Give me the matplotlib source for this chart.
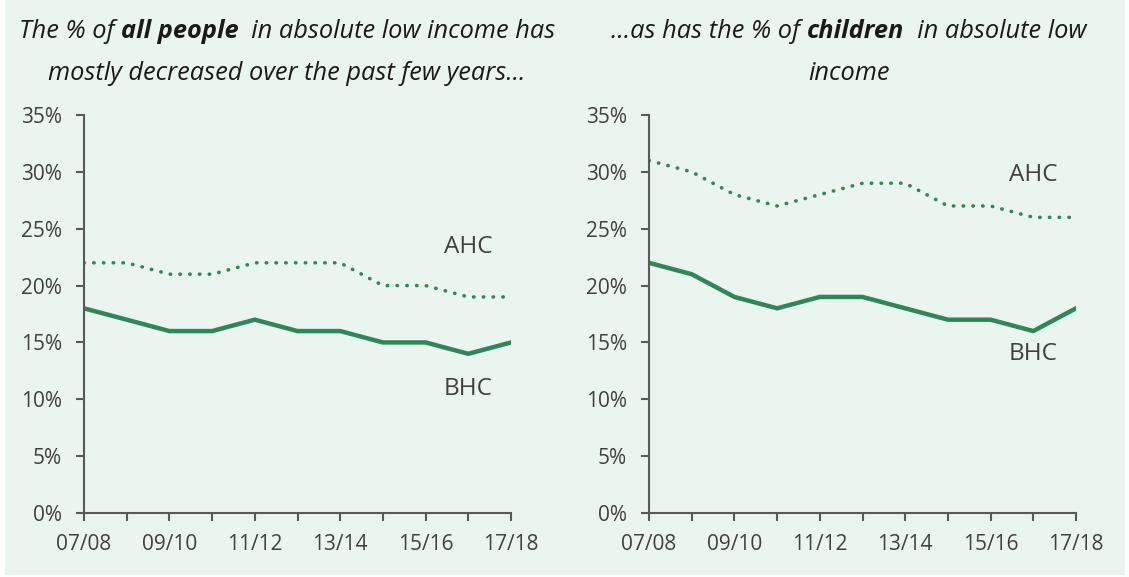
import matplotlib
matplotlib.use("Agg")
import matplotlib.pyplot as plt
from matplotlib.patches import Rectangle
from matplotlib.ticker import FuncFormatter

plt.rcParams['font.family'] = ['Open Sans', 'DejaVu Sans']

years = ["07/08", "08/09", "09/10", "10/11", "11/12", "12/13",
         "13/14", "14/15", "15/16", "16/17", "17/18"]
all_bhc = [18, 17, 16, 16, 17, 16, 16, 15, 15, 14, 15]
all_ahc = [22, 22, 21, 21, 22, 22, 22, 20, 20, 19, 19]
child_bhc = [22, 21, 19, 18, 19, 19, 18, 17, 17, 16, 18]
child_ahc = [31, 30, 28, 27, 28, 29, 29, 27, 27, 26, 26]

W, H = 1129, 577
GREEN = "#2e8659"
BG = "#ebf5ef"
GREY = "#404040"
AXC = "#595959"

fig = plt.figure(figsize=(W / 100, H / 100), dpi=100)
fig.patches.append(Rectangle((5 / W, 2 / H), 1120 / W, 1, transform=fig.transFigure,
                             facecolor=BG, edgecolor="none", zorder=-10))


def panel(left_px, bhc, ahc, ahc_lab, bhc_lab):
    ax = fig.add_axes([left_px / W, 1 - 513 / H, 427 / W, 398 / H])
    ax.set_facecolor("none")
    x = list(range(len(years)))
    ax.plot(x, bhc, color=GREEN, lw=3.2, solid_joinstyle="miter")
    ax.plot(x, ahc, color=GREEN, lw=2.6, linestyle=(0, (0.1, 2.6)), dash_capstyle="round")
    ax.set_xlim(0, len(years) - 1)
    ax.set_ylim(0, 35)
    ax.set_yticks(range(0, 36, 5))
    ax.yaxis.set_major_formatter(FuncFormatter(lambda v, p: f"{v:.0f}%"))
    ax.set_xticks(x)
    ax.set_xticklabels([y if i % 2 == 0 else "" for i, y in enumerate(years)])
    for s in ["top", "right"]:
        ax.spines[s].set_visible(False)
    for s in ["left", "bottom"]:
        ax.spines[s].set_color(AXC)
        ax.spines[s].set_linewidth(1.5)
    ax.tick_params(colors=AXC, labelcolor=GREY, labelsize=15, width=1.5, length=6)
    ax.tick_params(axis="x", pad=9)
    ax.tick_params(axis="y", pad=10)
    ax.text(9.0, ahc_lab, "AHC", fontsize=17.5, color=GREY, ha="center", va="center")
    ax.text(9.0, bhc_lab, "BHC", fontsize=17.5, color=GREY, ha="center", va="center")
    return ax


panel(84, all_bhc, all_ahc, 23.4, 10.9)
panel(649, child_bhc, child_ahc, 29.7, 14.0)

renderer = fig.canvas.get_renderer()


def title_line(cx, y, parts, size=18.3):
    texts = []
    for s, w in parts:
        t = fig.text(0, 1 - y / H, s, fontsize=size, style="italic", weight=w,
                     color="#1a1a1a", ha="left", va="baseline")
        texts.append(t)
    widths = [t.get_window_extent(renderer).width for t in texts]
    xpos = cx - sum(widths) / 2
    for t, wd in zip(texts, widths):
        t.set_x(xpos / W)
        xpos += wd


title_line(287, 38, [("The % of ", "normal"), ("all people", "bold"),
                     ("  in absolute low income has", "normal")])
title_line(287, 80, [("mostly decreased over the past few years...", "normal")])
title_line(849, 38, [("...as has the % of ", "normal"), ("children", "bold"),
                     ("  in absolute low", "normal")])
title_line(849, 80, [("income", "normal")])

fig.savefig("out.png", dpi=100)
